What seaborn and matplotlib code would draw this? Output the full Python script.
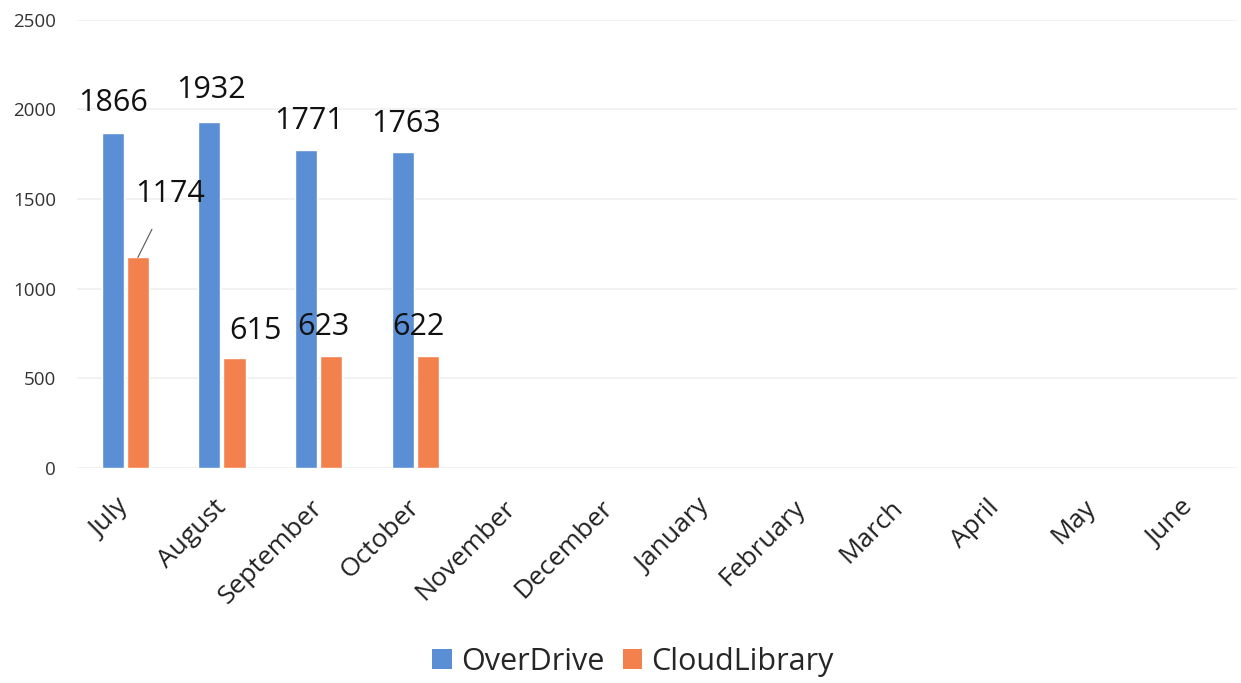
import matplotlib
matplotlib.use("Agg")
import matplotlib.pyplot as plt
import seaborn as sns
import pandas as pd
from matplotlib.patches import Patch

months = ["July", "August", "September", "October", "November", "December",
          "January", "February", "March", "April", "May", "June"]
overdrive = [1866, 1932, 1771, 1763, None, None, None, None, None, None, None, None]
cloudlibrary = [1174, 615, 623, 622, None, None, None, None, None, None, None, None]
series = ["OverDrive", "CloudLibrary"]
colors = ["#5B8FD5", "#F2814E"]
yticks = [0, 500, 1000, 1500, 2000, 2500]

rows = []
for m, a, b in zip(months, overdrive, cloudlibrary):
    rows.append({"month": m, "series": series[0], "value": a})
    rows.append({"month": m, "series": series[1], "value": b})
df = pd.DataFrame(rows)

sns.set_theme(style="white")
plt.rcParams["font.family"] = ["Open Sans", "DejaVu Sans"]

fig = plt.figure(figsize=(12.41, 6.83), dpi=100)
ax = fig.add_axes([0.062, 0.315, 0.935, 0.656])

sns.barplot(data=df, x="month", y="value", hue="series", order=months,
            hue_order=series, palette=colors, width=0.52, gap=0.12,
            ax=ax, legend=False, saturation=1, errorbar=None)

ax.set_ylim(0, 2500)
ax.set_yticks(yticks)
ax.set_xlim(-0.5, len(months) - 0.5)
ax.set_xlabel("")
ax.set_ylabel("")
ax.yaxis.grid(True, color="#F0F0F0", linewidth=1.2)
ax.set_axisbelow(True)
for s in ax.spines.values():
    s.set_visible(False)
ax.tick_params(axis="y", labelsize=13.5, colors="#333333", pad=15, length=0)
ax.tick_params(axis="x", labelsize=19, colors="#222222", pad=26, length=0)
for lbl in ax.get_xticklabels():
    lbl.set_rotation(45)
    lbl.set_ha("right")
    lbl.set_va("center")
    lbl.set_rotation_mode("anchor")

# data label offsets (points): centre of text relative to bar top
offsets_od = [(0, 22), (1, 23), (2, 21), (2, 20)]
offsets_cl = [(23, 46), (15, 19), (-6, 21), (-7, 21)]
containers = ax.containers
for i, bar in enumerate(containers[0]):
    v = overdrive[i]
    if v is None:
        continue
    cx = bar.get_x() + bar.get_width() / 2
    ax.annotate(str(v), xy=(cx, v), xytext=offsets_od[i], textcoords="offset points",
                ha="center", va="center", fontsize=22, color="#111111")
for i, bar in enumerate(containers[1]):
    v = cloudlibrary[i]
    if v is None:
        continue
    cx = bar.get_x() + bar.get_width() / 2
    kw = {}
    if i == 0:
        kw["arrowprops"] = dict(arrowstyle="-", color="#555555", lw=0.8,
                                shrinkA=14, shrinkB=0)
    ax.annotate(str(v), xy=(cx, v), xytext=offsets_cl[i], textcoords="offset points",
                ha="center", va="center", fontsize=22, color="#111111", **kw)

handles = [Patch(facecolor=c, edgecolor="none", label=s) for s, c in zip(series, colors)]
fig.legend(handles=handles, loc="center", bbox_to_anchor=(0.51, 0.031), ncol=2,
           frameon=False, fontsize=22, handlelength=0.65, handleheight=0.65,
           handletextpad=0.3, columnspacing=0.6)

fig.savefig("out.png", dpi=100)
